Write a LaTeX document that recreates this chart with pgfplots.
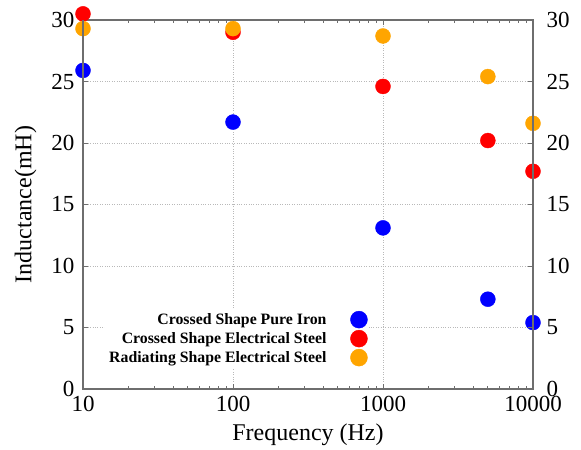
\documentclass[border=0pt]{standalone}
\usepackage{pgfplots}
\pgfplotsset{compat=1.18}
\usepackage{fontspec}
\setmainfont{Liberation Serif}

\definecolor{ironblue}{RGB}{0,0,255}
\definecolor{steelred}{RGB}{255,0,0}
\definecolor{radorange}{RGB}{255,165,0}
\definecolor{framegray}{RGB}{110,110,110}

\begin{document}
\begin{tikzpicture}
\begin{axis}[
  at={(0,0)}, anchor=south west,
  scale only axis, width=450pt, height=369pt,
  xmode=log, xmin=10, xmax=10000, ymin=0, ymax=30,
  ytick={0,5,10,15,20,25,30},
  xtick={10,100,1000,10000},
  xticklabels={10,100,1000,10000},
  /pgf/number format/assume math mode=true,
  tick label style={font=\fontsize{23}{26}\selectfont},
  xticklabel style={yshift=-4pt},
  yticklabel style={xshift=-5pt},
  axis line style={framegray, line width=1.1pt},
  tick style={framegray, line width=0.8pt},
  major tick length=5pt, minor tick length=3pt,
  tick align=inside,
  clip=false,
  ytick pos=left,
  xtick pos=both,
  grid=major,
  major grid style={dotted, gray!55, line width=0.7pt},
  xlabel={Frequency (Hz)},
  ylabel={Inductance(mH)},
  label style={font=\fontsize{24}{28}\selectfont},
  xlabel shift=5pt,
  ylabel shift=8pt,
  legend style={
    at={(0.637,0.217)}, anchor=north east,
    draw=none, fill=white,
    font=\fontsize{15.8}{19}\selectfont\bfseries,
    row sep=2pt, column sep=22pt, inner sep=2pt,
  },
  legend image post style={mark size=8.5pt},
  legend cell align=right,
  legend plot pos=right,
]
\addplot[only marks, mark=*, mark size=7.5pt, color=ironblue]
  coordinates {(10,25.9) (100,21.7) (1000,13.1) (5000,7.3) (10000,5.4)};
\addlegendentry{Crossed Shape Pure Iron}
\addplot[only marks, mark=*, mark size=7.5pt, color=steelred]
  coordinates {(10,30.5) (100,29.0) (1000,24.6) (5000,20.2) (10000,17.7)};
\addlegendentry{Crossed Shape Electrical Steel}
\addplot[only marks, mark=*, mark size=7.5pt, color=radorange]
  coordinates {(10,29.3) (100,29.3) (1000,28.7) (5000,25.4) (10000,21.6)};
\addlegendentry{Radiating Shape Electrical Steel}
\end{axis}
% same frame again, only to carry the right-hand y labels
\begin{axis}[
  at={(0,0)}, anchor=south west,
  scale only axis, width=450pt, height=369pt,
  xmin=10, xmax=10000, ymin=0, ymax=30,
  ytick={0,5,10,15,20,25,30},
  /pgf/number format/assume math mode=true,
  tick label style={font=\fontsize{23}{26}\selectfont},
  yticklabel style={xshift=10pt},
  axis line style={framegray, line width=1.1pt},
  tick style={framegray, line width=0.8pt},
  major tick length=5pt,
  tick align=inside,
  hide x axis,
  ytick pos=right,
  yticklabel pos=right,
]
\end{axis}
\path[use as bounding box] (-83pt,-59pt) rectangle (498pt,389pt);
\end{tikzpicture}
\end{document}
